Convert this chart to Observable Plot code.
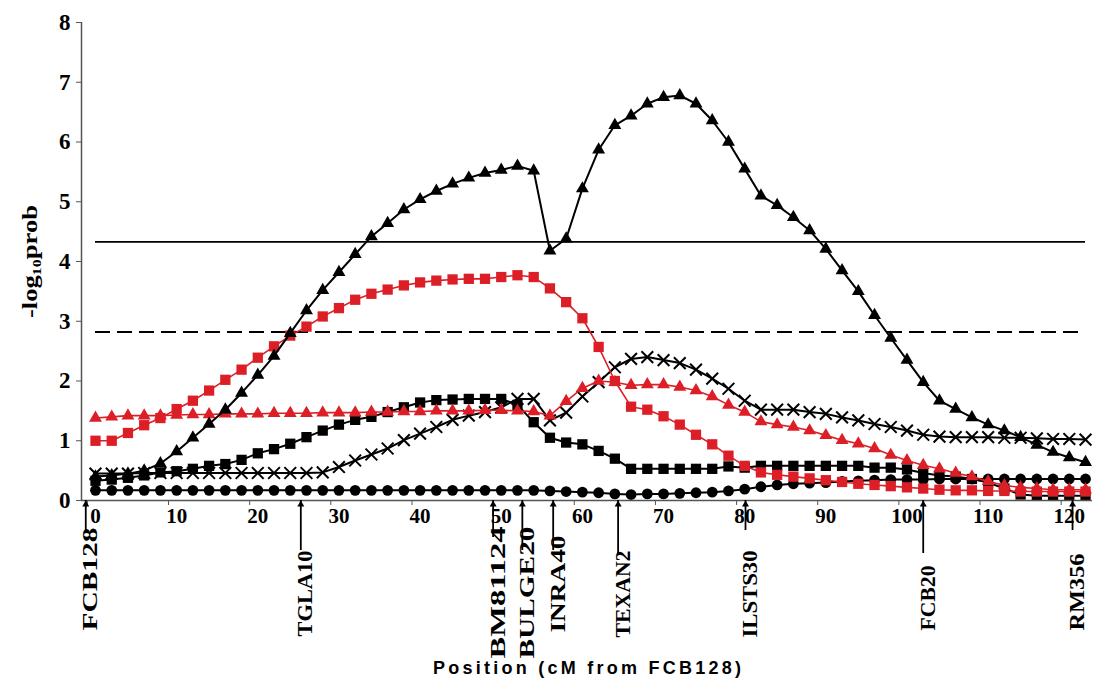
<!DOCTYPE html>
<html><head><meta charset="utf-8">
<script src="https://cdn.jsdelivr.net/npm/d3@7"></script>
<script src="https://cdn.jsdelivr.net/npm/@observablehq/plot@0.6"></script>
<style>
body{margin:0;background:#fff;}
#chart svg{display:block;}
</style></head><body><div id="chart"></div>
<script>
// ---- data ----
const positions = d3.range(0, 123, 2); // cM, 0..122 every 2 cM
const blackTriangles = [0.40,0.42,0.45,0.50,0.62,0.82,1.05,1.28,1.52,1.80,
 2.10,2.42,2.80,3.18,3.52,3.82,4.12,4.42,4.64,4.87,
 5.04,5.18,5.30,5.40,5.48,5.53,5.60,5.52,4.18,4.38,
 5.22,5.87,6.28,6.44,6.64,6.75,6.78,6.64,6.36,6.00,
 5.55,5.10,4.94,4.74,4.52,4.21,3.85,3.50,3.10,2.72,
 2.35,1.98,1.67,1.53,1.39,1.27,1.17,1.06,0.93,0.81,
 0.72,0.64];
const redSquares = [1.00,1.00,1.13,1.26,1.38,1.53,1.67,1.84,2.02,2.19,
 2.39,2.58,2.76,2.91,3.08,3.22,3.36,3.46,3.53,3.60,
 3.65,3.68,3.70,3.71,3.71,3.74,3.77,3.74,3.55,3.32,
 3.05,2.57,2.00,1.57,1.52,1.41,1.27,1.10,0.94,0.75,
 0.58,0.47,0.43,0.40,0.37,0.34,0.31,0.28,0.26,0.24,
 0.22,0.20,0.18,0.17,0.17,0.16,0.16,0.15,0.15,0.15,
 0.15,0.15];
const redTriangles = [1.38,1.40,1.42,1.42,1.42,1.43,1.44,1.44,1.45,1.45,
 1.45,1.46,1.46,1.46,1.47,1.47,1.47,1.48,1.48,1.49,
 1.49,1.50,1.50,1.50,1.51,1.51,1.50,1.49,1.42,1.66,
 1.88,2.00,1.98,1.93,1.94,1.94,1.90,1.84,1.74,1.60,
 1.48,1.32,1.27,1.23,1.17,1.09,1.01,0.95,0.87,0.76,
 0.67,0.59,0.53,0.46,0.40,0.32,0.25,0.22,0.20,0.18,
 0.18,0.18];
const blackSquares = [0.33,0.35,0.38,0.42,0.47,0.49,0.53,0.58,0.61,0.68,
 0.79,0.86,0.95,1.06,1.17,1.27,1.35,1.40,1.48,1.56,
 1.64,1.68,1.69,1.70,1.70,1.70,1.60,1.31,1.05,0.97,
 0.94,0.83,0.70,0.53,0.53,0.53,0.53,0.53,0.53,0.57,
 0.55,0.58,0.58,0.58,0.58,0.58,0.58,0.58,0.55,0.55,
 0.52,0.46,0.42,0.40,0.36,0.30,0.20,0.10,0.08,0.08,
 0.08,0.08];
const crosses = [0.45,0.45,0.45,0.46,0.46,0.46,0.46,0.46,0.46,0.46,
 0.46,0.46,0.46,0.46,0.47,0.56,0.67,0.77,0.87,1.01,
 1.12,1.23,1.35,1.42,1.48,1.56,1.70,1.70,1.34,1.47,
 1.74,1.98,2.23,2.37,2.40,2.35,2.30,2.19,2.04,1.87,
 1.67,1.52,1.52,1.52,1.48,1.45,1.39,1.34,1.28,1.23,
 1.17,1.10,1.07,1.06,1.06,1.06,1.05,1.05,1.04,1.03,
 1.03,1.02];
const circles = [0.17,0.17,0.17,0.17,0.17,0.17,0.17,0.17,0.17,0.17,
 0.17,0.17,0.17,0.17,0.17,0.17,0.17,0.17,0.17,0.17,
 0.17,0.17,0.17,0.17,0.17,0.17,0.17,0.17,0.16,0.15,
 0.14,0.13,0.11,0.10,0.11,0.11,0.12,0.13,0.14,0.16,
 0.19,0.23,0.26,0.28,0.29,0.30,0.32,0.33,0.34,0.35,
 0.35,0.35,0.36,0.36,0.36,0.36,0.36,0.36,0.36,0.36,
 0.36,0.36];
const thresholdSolid = 4.33;
const thresholdDashed = 2.82;
const markerNames = ["FCB128","TGLA10","BM81124","BULGE20","INRA40","TEXAN2","ILSTS30","FCB20","RM356"];
const markerPos = [-1.2, 25.3, 49.0, 52.6, 56.4, 64.4, 80.1, 102.0, 120.4];
const xTickLabels = [0,10,20,30,40,50,60,70,80,90,100,110,120];
const yTickLabels = [0,1,2,3,4,5,6,7,8];
const xTitle = "Position (cM from FCB128)";
const yTitle = "-log\u2081\u2080prob";

// ---- layout / style (not data) ----
const W = 1094, H = 683, mTop = 22, mBottom = 183, mLeft = 81, mRight = 2;
const pxPerUnit = (H - mTop - mBottom) / 8;
const arrowLenPx = [30, 50, 37, 50, 50, 55, 30, 53, 30];
const labelBottomPx = [130, 136, 158, 158, 132, 137, 137, 130, 130];
const labelLenPx = [103, 86, 132, 132, 97, 87, 87, 65, 77];
const RED = "#dc1f26";
const SERIF = '"Liberation Serif","Times New Roman",serif';
const SANS = '"Liberation Sans",Arial,sans-serif';

const seriesDefs = [
  {key:"circles", values: circles, color:"black", symbol:"circle", r:5.4, lw:2},
  {key:"crosses", values: crosses, color:"black", symbol:"times", r:5.4, lw:2},
  {key:"blackSquares", values: blackSquares, color:"black", symbol:"square", r:5.8, lw:2},
  {key:"redSquares", values: redSquares, color:RED, symbol:"square", r:5.8, lw:1.6},
  {key:"redTriangles", values: redTriangles, color:RED, symbol:"triangle", r:4.8, lw:1.6},
  {key:"blackTriangles", values: blackTriangles, color:"black", symbol:"triangle", r:4.8, lw:2}
];

const markers = markerNames.map((name, i) => ({
  name, pos: markerPos[i],
  arrowBottom: -arrowLenPx[i] / pxPerUnit,
  labelBottom: -labelBottomPx[i] / pxPerUnit
}));

const xDomain = [-1.725, 122.86];
const marks = [];

marks.push(Plot.ruleY([thresholdSolid], {x1: positions[0], x2: positions[positions.length-1], stroke: "black", strokeWidth: 1.8}));
marks.push(Plot.ruleY([thresholdDashed], {x1: positions[0], x2: positions[positions.length-1], stroke: "black", strokeWidth: 1.8, strokeDasharray: "15,7"}));

for (const s of seriesDefs) {
  const rows = positions.map((p, i) => ({pos: p, v: s.values[i]}));
  marks.push(Plot.line(rows, {x: "pos", y: "v", stroke: s.color, strokeWidth: s.lw}));
  if (s.symbol === "times") {
    marks.push(Plot.dot(rows, {x: "pos", y: "v", symbol: "times", r: s.r, stroke: s.color, strokeWidth: 2, fill: "none"}));
  } else {
    marks.push(Plot.dot(rows, {x: "pos", y: "v", symbol: s.symbol, r: s.r, fill: s.color, stroke: "none"}));
  }
}

marks.push(Plot.ruleY([0], {stroke: "#555", strokeWidth: 1.5}));
marks.push(Plot.ruleX([xDomain[0]], {y1: 0, y2: 8, stroke: "#555", strokeWidth: 1.5}));

marks.push(Plot.axisY(yTickLabels, {tickSize: 5, tickPadding: 6, stroke: "#555", tickFormat: d => String(d), fontSize: 23, fontWeight: "bold", fontFamily: SERIF, label: null}));
// x tick marks sit on category boundaries, 1 cM before each label
marks.push(Plot.axisX(xTickLabels.map(d => d - 1), {tickSize: 5, stroke: "#555", tickFormat: () => "", label: null}));
marks.push(Plot.axisX(xTickLabels, {tickSize: 0, tickPadding: 8, tickFormat: d => String(d), fontSize: 21, fontWeight: "bold", fontFamily: SERIF, label: null}));

marks.push(Plot.ruleX(markers, {x: "pos", y1: "arrowBottom", y2: 0, stroke: "black", strokeWidth: 1.8}));
marks.push(Plot.dot(markers, {x: "pos", y: 0, symbol: "triangle", r: 2.6, fill: "black", dy: 4}));
marks.push(Plot.text(markers, {x: "pos", y: "labelBottom", text: "name", rotate: -90, textAnchor: "start", lineAnchor: "middle", dx: 5, fontSize: 20, fontWeight: "bold", fontFamily: SERIF}));

marks.push(Plot.text([yTitle], {frameAnchor: "left", text: d => d, rotate: -90, dx: -51, textAnchor: "middle", lineAnchor: "middle", fontSize: 21, fontWeight: "bold", fontFamily: SERIF}));
marks.push(Plot.text([xTitle], {frameAnchor: "bottom", text: d => d, dy: 168, textAnchor: "middle", lineAnchor: "middle", fontSize: 18, fontWeight: "bold", fontFamily: SANS}));

const plot = Plot.plot({
  width: W, height: H,
  marginTop: mTop, marginBottom: mBottom, marginLeft: mLeft, marginRight: mRight,
  x: {domain: xDomain},
  y: {domain: [0, 8]},
  style: {background: "white", color: "black", overflow: "visible"},
  marks
});
const svg = d3.select(plot);
svg.selectAll("text").each(function() {
  const t = this.textContent;
  const i = markerNames.indexOf(t);
  if (i >= 0) d3.select(this).attr("textLength", labelLenPx[i]).attr("lengthAdjust", "spacingAndGlyphs");
  if (t === xTitle) d3.select(this).attr("textLength", 308).attr("lengthAdjust", "spacing");
  if (t === yTitle) d3.select(this).attr("textLength", 113).attr("lengthAdjust", "spacingAndGlyphs");
});
document.getElementById("chart").appendChild(plot);
</script>
</body></html>
